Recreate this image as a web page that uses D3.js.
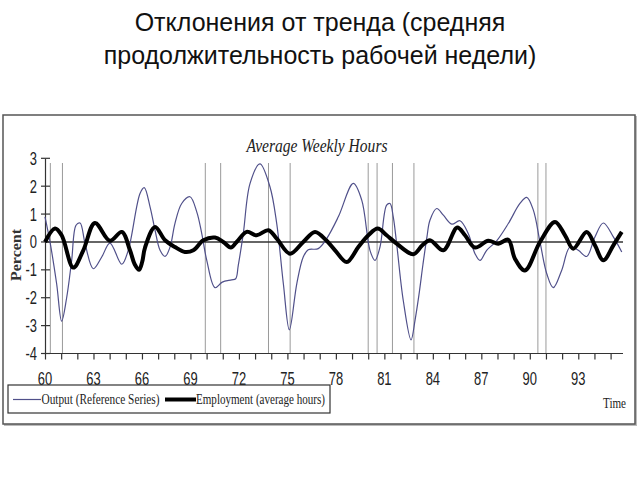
<!DOCTYPE html>
<html><head><meta charset="utf-8">
<script src="https://cdn.jsdelivr.net/npm/d3@7"></script>
<style>body{margin:0;background:#fff}svg{display:block}</style>
</head><body>
<svg id="c" width="640" height="480"></svg>
<script>
const titleLines = ["Отклонения от тренда (средняя", "продолжительность рабочей недели)"];
const chartTitle = "Average Weekly Hours";
const yTicks = [3, 2, 1, 0, -1, -2, -3, -4];
const xTickLabels = [60, 63, 66, 69, 72, 75, 78, 81, 84, 87, 90, 93];
const xMinorTicks = d3.range(60, 96);
const recessionLines = [60.33, 61.08, 69.92, 70.87, 73.83, 75.17, 80.0, 80.55, 81.5, 82.83, 90.5, 91.0];

const outputYears = [60.0, 60.31, 60.72, 61.03, 61.34, 61.65, 61.92, 62.17, 62.48, 62.99, 63.51, 64.02, 64.75, 65.15, 65.88, 66.14, 66.5, 66.81, 67.12, 67.43, 67.74, 68.04, 68.46, 68.97, 69.39, 69.7, 70.01, 70.52, 70.97, 71.55, 71.8, 71.96, 72.27, 72.69, 73.3, 73.92, 74.34, 74.75, 75.12, 75.58, 75.98, 76.29, 76.91, 77.43, 78.15, 79.08, 79.6, 80.11, 80.42, 80.73, 81.14, 81.35, 81.55, 81.76, 82.17, 82.65, 82.9, 83.14, 83.39, 83.64, 83.82, 84.24, 84.65, 85.17, 85.68, 86.19, 86.61, 86.92, 87.33, 87.95, 88.67, 89.39, 89.81, 90.22, 90.63, 91.05, 91.45, 91.97, 92.49, 93.0, 93.52, 94.03, 94.55, 95.17, 95.69];
const outputValues = [0.9, 0.0, -1.5, -2.84, -2.0, -0.66, 0.6, 0.68, -0.06, -0.96, -0.54, -0.04, -0.8, -0.3, 1.74, 1.95, 1.26, 0.42, -0.3, -0.52, -0.18, 0.66, 1.38, 1.62, 1.08, 0.3, -0.66, -1.64, -1.44, -1.36, -1.32, -0.84, 0.3, 2.1, 2.8, 1.98, 0.66, -1.5, -3.15, -1.5, -0.54, -0.28, -0.24, 0.12, 0.9, 2.1, 1.5, -0.3, -0.66, -0.18, 1.32, 1.38, 0.9, -0.06, -2.1, -3.51, -2.8, -1.9, -0.8, 0.2, 0.78, 1.2, 0.96, 0.64, 0.76, 0.3, -0.42, -0.66, -0.3, 0.04, 0.66, 1.38, 1.6, 1.14, 0.0, -1.14, -1.64, -1.02, -0.18, -0.3, -0.52, 0.18, 0.68, 0.18, -0.36];

const employYears = [60.0, 60.62, 61.03, 61.75, 62.37, 63.09, 64.02, 64.75, 65.26, 65.55, 65.82, 66.02, 66.19, 66.81, 67.43, 68.04, 68.66, 69.18, 69.8, 70.52, 71.03, 71.5, 71.86, 72.48, 73.1, 73.82, 74.34, 75.16, 75.98, 76.71, 77.4, 77.95, 78.67, 79.39, 80.01, 80.59, 81.14, 81.76, 82.79, 83.35, 83.82, 84.65, 85.51, 85.99, 86.61, 87.43, 88.05, 88.67, 89.08, 89.7, 90.63, 91.56, 92.18, 92.69, 93.52, 94.03, 94.55, 95.17, 95.69];
const employValues = [0.0, 0.48, 0.24, -0.92, -0.3, 0.68, 0.04, 0.36, -0.3, -0.8, -1.0, -0.7, -0.2, 0.54, 0.06, -0.18, -0.36, -0.3, 0.06, 0.16, 0.0, -0.2, 0.0, 0.36, 0.24, 0.42, 0.12, -0.42, 0.0, 0.36, 0.06, -0.3, -0.72, -0.18, 0.24, 0.48, 0.24, -0.06, -0.44, -0.12, 0.06, -0.3, 0.52, 0.24, -0.2, 0.04, -0.06, 0.08, -0.6, -1.02, 0.0, 0.72, 0.24, -0.24, 0.36, -0.12, -0.66, -0.12, 0.36];

const legendLabels = ["Output (Reference Series)", "Employment (average hours)"];

const svg = d3.select("#c");
const x = d3.scaleLinear().domain([60, 96]).range([45, 45 + 36 * 16.16]);
const y = d3.scaleLinear().domain([-4, 3]).range([353.5, 158.3]);

// page title
svg.selectAll("text.ttl").data(titleLines).join("text")
  .attr("x", 320).attr("y", (d, i) => 31 + i * 33)
  .attr("text-anchor", "middle")
  .attr("font-family", "Liberation Sans, Arial, sans-serif")
  .attr("font-size", 25).attr("fill", "#111").text(d => d);

// frame
svg.append("rect").attr("x", 4).attr("y", 116).attr("width", 633).attr("height", 310)
  .attr("fill", "#bbb");
svg.append("rect").attr("x", 3).attr("y", 115).attr("width", 632).attr("height", 309)
  .attr("fill", "#fff").attr("stroke", "#555").attr("stroke-width", 1.5);

// chart title
svg.append("text").attr("x", 317).attr("y", 152).attr("text-anchor", "middle")
  .attr("font-family", "Liberation Serif, Times New Roman, serif")
  .attr("font-style", "italic").attr("font-size", 18)
  .attr("textLength", 141).attr("lengthAdjust", "spacingAndGlyphs")
  .attr("fill", "#222").text(chartTitle);

// recession lines
svg.append("g").selectAll("line").data(recessionLines).join("line")
  .attr("x1", d => x(d)).attr("x2", d => x(d))
  .attr("y1", 163).attr("y2", y(-4))
  .attr("stroke", "#9a9a9a").attr("stroke-width", 1);

// y axis
const yAxis = d3.axisLeft(y).tickValues(yTicks).tickSize(0).tickFormat("");
const gy = svg.append("g").attr("transform", `translate(${x(60)},0)`).call(yAxis);
gy.select(".domain").attr("stroke", "#333").attr("stroke-width", 1.2);
svg.append("g").selectAll("line").data(yTicks).join("line")
  .attr("x1", 41).attr("x2", 50).attr("y1", d => y(d)).attr("y2", d => y(d))
  .attr("stroke", "#333").attr("stroke-width", 1.2);
svg.append("g").selectAll("text").data(yTicks).join("text")
  .attr("transform", d => `translate(37,${y(d) + 6.5}) scale(0.72,1)`)
  .attr("text-anchor", "end")
  .attr("font-family", "Liberation Sans, Arial, sans-serif").attr("font-size", 18)
  .attr("fill", "#222").text(d => d);

// x axis
const xAxis = d3.axisBottom(x).tickValues(xMinorTicks).tickSize(6).tickFormat("");
const gx = svg.append("g").attr("transform", `translate(0,${y(-4)})`).call(xAxis);
gx.select(".domain").attr("d", `M${x(60)},0H623`).attr("stroke", "#333").attr("stroke-width", 1.2);
gx.selectAll(".tick line").attr("stroke", "#333").attr("stroke-width", 1.2);
svg.append("g").selectAll("text").data(xTickLabels).join("text")
  .attr("transform", d => `translate(${x(d)},385) scale(0.72,1)`)
  .attr("text-anchor", "middle")
  .attr("font-family", "Liberation Sans, Arial, sans-serif").attr("font-size", 18)
  .attr("fill", "#222").text(d => d);

// zero line
svg.append("line").attr("x1", x(60)).attr("x2", 623).attr("y1", y(0)).attr("y2", y(0))
  .attr("stroke", "#333").attr("stroke-width", 1.5);

// Percent label
svg.append("text").attr("transform", `translate(21,255) rotate(-90)`)
  .attr("text-anchor", "middle")
  .attr("font-family", "Liberation Serif, Times New Roman, serif")
  .attr("font-weight", "bold").attr("font-size", 14)
  .attr("textLength", 52).attr("lengthAdjust", "spacingAndGlyphs")
  .attr("fill", "#333").text("Percent");

// series
const outData = outputYears.map((t, i) => ({t, v: outputValues[i]}));
const empData = employYears.map((t, i) => ({t, v: employValues[i]}));
const line = d3.line().x(d => x(d.t)).y(d => y(d.v)).curve(d3.curveCatmullRom.alpha(0.5));
svg.append("path").datum(outData).attr("d", line)
  .attr("fill", "none").attr("stroke", "#50508a").attr("stroke-width", 1.2);
svg.append("path").datum(empData).attr("d", line)
  .attr("fill", "none").attr("stroke", "#000").attr("stroke-width", 4)
  .attr("stroke-linejoin", "round");

// legend
svg.append("rect").attr("x", 8).attr("y", 385).attr("width", 322).attr("height", 28)
  .attr("fill", "#fff").attr("stroke", "#333").attr("stroke-width", 1.2);
svg.append("line").attr("x1", 13).attr("x2", 41).attr("y1", 399.5).attr("y2", 399.5)
  .attr("stroke", "#50508a").attr("stroke-width", 1.2);
svg.append("line").attr("x1", 165).attr("x2", 196).attr("y1", 399.5).attr("y2", 399.5)
  .attr("stroke", "#000").attr("stroke-width", 4);
svg.append("text").attr("x", 41.5).attr("y", 404)
  .attr("font-family", "Liberation Serif, Times New Roman, serif").attr("font-size", 15)
  .attr("textLength", 118).attr("lengthAdjust", "spacingAndGlyphs")
  .attr("fill", "#222").text(legendLabels[0]);
svg.append("text").attr("x", 196).attr("y", 404)
  .attr("font-family", "Liberation Serif, Times New Roman, serif").attr("font-size", 15)
  .attr("textLength", 129).attr("lengthAdjust", "spacingAndGlyphs")
  .attr("fill", "#222").text(legendLabels[1]);

svg.append("text").attr("x", 603).attr("y", 408)
  .attr("font-family", "Liberation Serif, Times New Roman, serif").attr("font-size", 15)
  .attr("textLength", 23).attr("lengthAdjust", "spacingAndGlyphs")
  .attr("fill", "#222").text("Time");
</script>
</body></html>
